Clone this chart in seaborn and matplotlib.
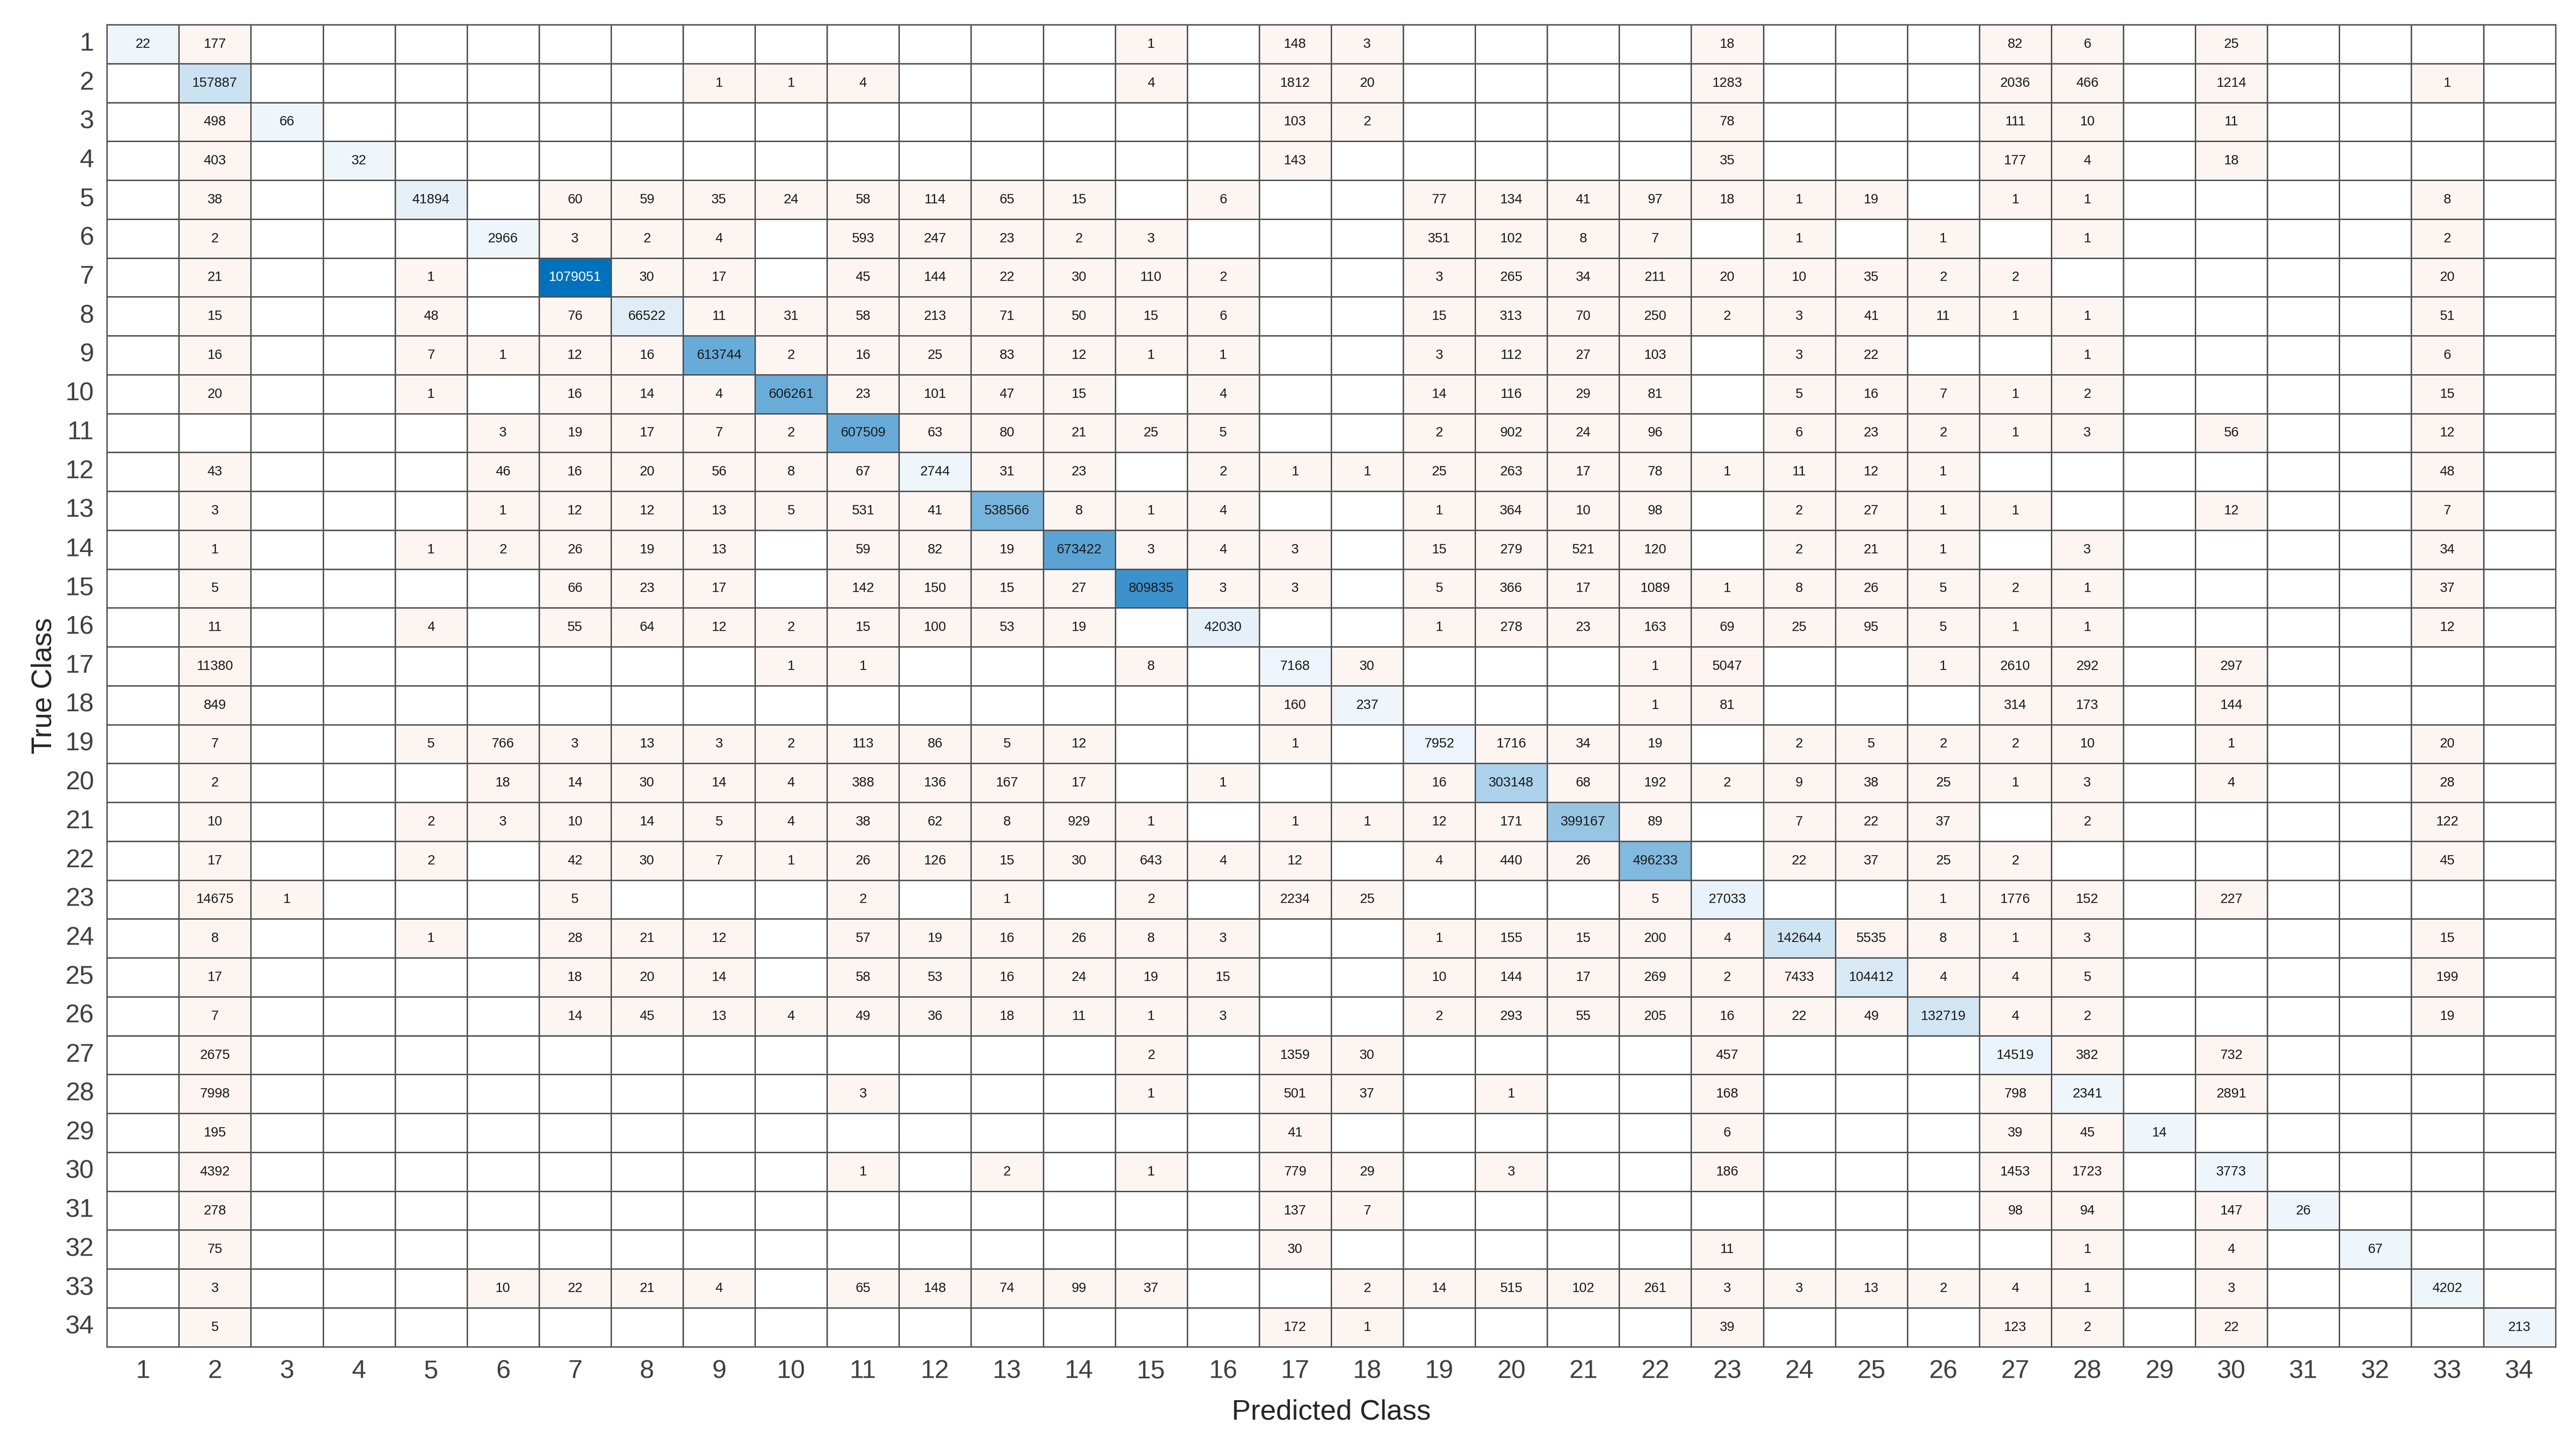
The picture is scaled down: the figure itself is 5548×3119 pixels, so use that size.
import numpy as np
import matplotlib
matplotlib.use("Agg")
import matplotlib.pyplot as plt
from matplotlib.colors import LinearSegmentedColormap, ListedColormap
import seaborn as sns

classes = [str(i) for i in range(1, 35)]

row_01 = {1: 22, 2: 177, 15: 1, 17: 148, 18: 3, 23: 18, 27: 82, 28: 6, 30: 25}
row_02 = {2: 157887, 9: 1, 10: 1, 11: 4, 15: 4, 17: 1812, 18: 20, 23: 1283, 27: 2036, 28: 466, 30: 1214, 33: 1}
row_03 = {2: 498, 3: 66, 17: 103, 18: 2, 23: 78, 27: 111, 28: 10, 30: 11}
row_04 = {2: 403, 4: 32, 17: 143, 23: 35, 27: 177, 28: 4, 30: 18}
row_05 = {2: 38, 5: 41894, 7: 60, 8: 59, 9: 35, 10: 24, 11: 58, 12: 114, 13: 65, 14: 15, 16: 6, 19: 77, 20: 134, 21: 41, 22: 97, 23: 18, 24: 1, 25: 19, 27: 1, 28: 1, 33: 8}
row_06 = {2: 2, 6: 2966, 7: 3, 8: 2, 9: 4, 11: 593, 12: 247, 13: 23, 14: 2, 15: 3, 19: 351, 20: 102, 21: 8, 22: 7, 24: 1, 26: 1, 28: 1, 33: 2}
row_07 = {2: 21, 5: 1, 7: 1079051, 8: 30, 9: 17, 11: 45, 12: 144, 13: 22, 14: 30, 15: 110, 16: 2, 19: 3, 20: 265, 21: 34, 22: 211, 23: 20, 24: 10, 25: 35, 26: 2, 27: 2, 33: 20}
row_08 = {2: 15, 5: 48, 7: 76, 8: 66522, 9: 11, 10: 31, 11: 58, 12: 213, 13: 71, 14: 50, 15: 15, 16: 6, 19: 15, 20: 313, 21: 70, 22: 250, 23: 2, 24: 3, 25: 41, 26: 11, 27: 1, 28: 1, 33: 51}
row_09 = {2: 16, 5: 7, 6: 1, 7: 12, 8: 16, 9: 613744, 10: 2, 11: 16, 12: 25, 13: 83, 14: 12, 15: 1, 16: 1, 19: 3, 20: 112, 21: 27, 22: 103, 24: 3, 25: 22, 28: 1, 33: 6}
row_10 = {2: 20, 5: 1, 7: 16, 8: 14, 9: 4, 10: 606261, 11: 23, 12: 101, 13: 47, 14: 15, 16: 4, 19: 14, 20: 116, 21: 29, 22: 81, 24: 5, 25: 16, 26: 7, 27: 1, 28: 2, 33: 15}
row_11 = {6: 3, 7: 19, 8: 17, 9: 7, 10: 2, 11: 607509, 12: 63, 13: 80, 14: 21, 15: 25, 16: 5, 19: 2, 20: 902, 21: 24, 22: 96, 24: 6, 25: 23, 26: 2, 27: 1, 28: 3, 30: 56, 33: 12}
row_12 = {2: 43, 6: 46, 7: 16, 8: 20, 9: 56, 10: 8, 11: 67, 12: 2744, 13: 31, 14: 23, 16: 2, 17: 1, 18: 1, 19: 25, 20: 263, 21: 17, 22: 78, 23: 1, 24: 11, 25: 12, 26: 1, 33: 48}
row_13 = {2: 3, 6: 1, 7: 12, 8: 12, 9: 13, 10: 5, 11: 531, 12: 41, 13: 538566, 14: 8, 15: 1, 16: 4, 19: 1, 20: 364, 21: 10, 22: 98, 24: 2, 25: 27, 26: 1, 27: 1, 30: 12, 33: 7}
row_14 = {2: 1, 5: 1, 6: 2, 7: 26, 8: 19, 9: 13, 11: 59, 12: 82, 13: 19, 14: 673422, 15: 3, 16: 4, 17: 3, 19: 15, 20: 279, 21: 521, 22: 120, 24: 2, 25: 21, 26: 1, 28: 3, 33: 34}
row_15 = {2: 5, 7: 66, 8: 23, 9: 17, 11: 142, 12: 150, 13: 15, 14: 27, 15: 809835, 16: 3, 17: 3, 19: 5, 20: 366, 21: 17, 22: 1089, 23: 1, 24: 8, 25: 26, 26: 5, 27: 2, 28: 1, 33: 37}
row_16 = {2: 11, 5: 4, 7: 55, 8: 64, 9: 12, 10: 2, 11: 15, 12: 100, 13: 53, 14: 19, 16: 42030, 19: 1, 20: 278, 21: 23, 22: 163, 23: 69, 24: 25, 25: 95, 26: 5, 27: 1, 28: 1, 33: 12}
row_17 = {2: 11380, 10: 1, 11: 1, 15: 8, 17: 7168, 18: 30, 22: 1, 23: 5047, 26: 1, 27: 2610, 28: 292, 30: 297}
row_18 = {2: 849, 17: 160, 18: 237, 22: 1, 23: 81, 27: 314, 28: 173, 30: 144}
row_19 = {2: 7, 5: 5, 6: 766, 7: 3, 8: 13, 9: 3, 10: 2, 11: 113, 12: 86, 13: 5, 14: 12, 17: 1, 19: 7952, 20: 1716, 21: 34, 22: 19, 24: 2, 25: 5, 26: 2, 27: 2, 28: 10, 30: 1, 33: 20}
row_20 = {2: 2, 6: 18, 7: 14, 8: 30, 9: 14, 10: 4, 11: 388, 12: 136, 13: 167, 14: 17, 16: 1, 19: 16, 20: 303148, 21: 68, 22: 192, 23: 2, 24: 9, 25: 38, 26: 25, 27: 1, 28: 3, 30: 4, 33: 28}
row_21 = {2: 10, 5: 2, 6: 3, 7: 10, 8: 14, 9: 5, 10: 4, 11: 38, 12: 62, 13: 8, 14: 929, 15: 1, 17: 1, 18: 1, 19: 12, 20: 171, 21: 399167, 22: 89, 24: 7, 25: 22, 26: 37, 28: 2, 33: 122}
row_22 = {2: 17, 5: 2, 7: 42, 8: 30, 9: 7, 10: 1, 11: 26, 12: 126, 13: 15, 14: 30, 15: 643, 16: 4, 17: 12, 19: 4, 20: 440, 21: 26, 22: 496233, 24: 22, 25: 37, 26: 25, 27: 2, 33: 45}
row_23 = {2: 14675, 3: 1, 7: 5, 11: 2, 13: 1, 15: 2, 17: 2234, 18: 25, 22: 5, 23: 27033, 26: 1, 27: 1776, 28: 152, 30: 227}
row_24 = {2: 8, 5: 1, 7: 28, 8: 21, 9: 12, 11: 57, 12: 19, 13: 16, 14: 26, 15: 8, 16: 3, 19: 1, 20: 155, 21: 15, 22: 200, 23: 4, 24: 142644, 25: 5535, 26: 8, 27: 1, 28: 3, 33: 15}
row_25 = {2: 17, 7: 18, 8: 20, 9: 14, 11: 58, 12: 53, 13: 16, 14: 24, 15: 19, 16: 15, 19: 10, 20: 144, 21: 17, 22: 269, 23: 2, 24: 7433, 25: 104412, 26: 4, 27: 4, 28: 5, 33: 199}
row_26 = {2: 7, 7: 14, 8: 45, 9: 13, 10: 4, 11: 49, 12: 36, 13: 18, 14: 11, 15: 1, 16: 3, 19: 2, 20: 293, 21: 55, 22: 205, 23: 16, 24: 22, 25: 49, 26: 132719, 27: 4, 28: 2, 33: 19}
row_27 = {2: 2675, 15: 2, 17: 1359, 18: 30, 23: 457, 27: 14519, 28: 382, 30: 732}
row_28 = {2: 7998, 11: 3, 15: 1, 17: 501, 18: 37, 20: 1, 23: 168, 27: 798, 28: 2341, 30: 2891}
row_29 = {2: 195, 17: 41, 23: 6, 27: 39, 28: 45, 29: 14}
row_30 = {2: 4392, 11: 1, 13: 2, 15: 1, 17: 779, 18: 29, 20: 3, 23: 186, 27: 1453, 28: 1723, 30: 3773}
row_31 = {2: 278, 17: 137, 18: 7, 27: 98, 28: 94, 30: 147, 31: 26}
row_32 = {2: 75, 17: 30, 23: 11, 28: 1, 30: 4, 32: 67}
row_33 = {2: 3, 6: 10, 7: 22, 8: 21, 9: 4, 11: 65, 12: 148, 13: 74, 14: 99, 15: 37, 18: 2, 19: 14, 20: 515, 21: 102, 22: 261, 23: 3, 24: 3, 25: 13, 26: 2, 27: 4, 28: 1, 30: 3, 33: 4202}
row_34 = {2: 5, 17: 172, 18: 1, 23: 39, 27: 123, 28: 2, 30: 22, 34: 213}

rows = [row_01, row_02, row_03, row_04, row_05, row_06, row_07, row_08, row_09, row_10,
        row_11, row_12, row_13, row_14, row_15, row_16, row_17, row_18, row_19, row_20,
        row_21, row_22, row_23, row_24, row_25, row_26, row_27, row_28, row_29, row_30,
        row_31, row_32, row_33, row_34]

n = len(classes)
M = np.zeros((n, n))
for i, r in enumerate(rows):
    for c, v in r.items():
        M[i, c - 1] = v

vmax = M.max()
annot = np.where(M > 0, M.astype(int).astype(str), "")
eye = np.eye(n, dtype=bool)

blue_cmap = LinearSegmentedColormap.from_list("b", ["#eef5fb", "#0072bd"])
red_cmap = LinearSegmentedColormap.from_list("r", ["#fdf5f2", "#d95319"])
white_cmap = ListedColormap(["#ffffff"])

plt.rcParams['font.family'] = ['Liberation Sans', 'DejaVu Sans']
fig = plt.figure(figsize=(27.74, 15.595), dpi=200)
ax = fig.add_axes([0.0415, 0.070, 0.9505, 0.913])

line_kw = dict(linewidths=1.0, linecolor="#505050", cbar=False)
sns.heatmap(np.zeros((n, n)), cmap=white_cmap, ax=ax, xticklabels=classes,
            yticklabels=classes, **line_kw)
sns.heatmap(M, mask=(M == 0) | eye, cmap=red_cmap, vmin=0, vmax=vmax, ax=ax,
            annot=annot, fmt="", annot_kws={"fontsize": 10.5},
            xticklabels=classes, yticklabels=classes, **line_kw)
sns.heatmap(M, mask=(M == 0) | ~eye, cmap=blue_cmap, vmin=0, vmax=vmax, ax=ax,
            annot=annot, fmt="", annot_kws={"fontsize": 10.5},
            xticklabels=classes, yticklabels=classes, **line_kw)

big = str(int(vmax))
for t in ax.texts:
    t.set_color("#ffffff" if t.get_text() == big else "#1a1a1a")

ax.tick_params(axis="both", length=0, labelsize=20, colors="#404040", pad=10)
ax.set_yticklabels(classes, rotation=0)
ax.set_xticklabels(classes, rotation=0)
ax.set_xlabel("Predicted Class", fontsize=22, color="#262626", labelpad=12)
ax.set_ylabel("True Class", fontsize=22, color="#262626", labelpad=6)
for s in ax.spines.values():
    s.set_visible(True)
    s.set_color("#505050")
    s.set_linewidth(1.0)

fig.savefig("out.png", dpi=200, facecolor="white")
